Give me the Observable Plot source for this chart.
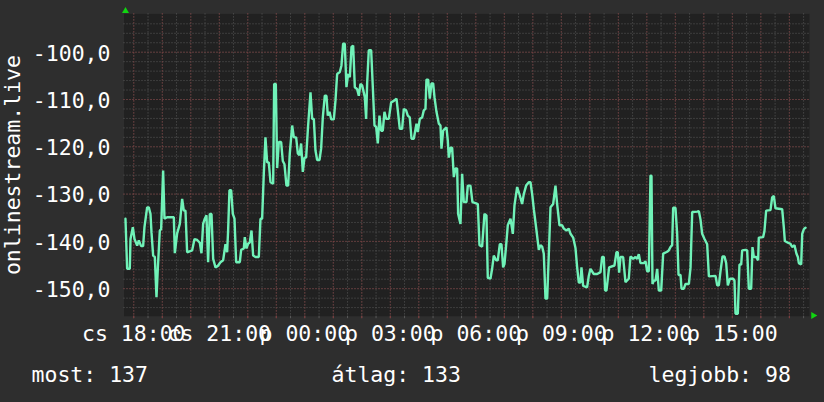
<!DOCTYPE html>
<html><head><meta charset="utf-8">
<script src="https://cdn.jsdelivr.net/npm/d3@7"></script>
<script src="https://cdn.jsdelivr.net/npm/@observablehq/plot@0.6"></script>
<style>
html,body{margin:0;padding:0;background:#2e2e2e;}
#chart{width:824px;height:402px;overflow:hidden;}
</style></head><body><div id="chart"></div>
<script>
// ---- data ----
const seriesName = "onlinestream.live";
const startTime = "2024-01-04T17:39:25Z";   // csütörtök
const endTime   = "2024-01-05T17:42:25Z";   // péntek
const anchorTime = "2024-01-04T18:00:00Z";
// minutes after 18:00 (Thursday)
const times = [
-17.5,-14,-8.4,-6.9,-2,1.5,7.1,10.6,15.5,19.7,
22.5,28.1,31.6,35.2,37.3,40.8,44.3,47.8,50.6,54.8,
57.6,61.8,64.6,70.2,84.3,86.4,91.3,96.9,101.8,105.3,
108.8,112.3,122.9,127.8,133.4,139,142.5,146,149.5,153,
156.5,160,163.6,167.1,172,176.9,182.5,188.1,193,196.5,
198.6,201.4,205,208.5,212,215.5,223.2,226,231.6,233.7,
237.2,240.7,244.2,247.8,251.3,256.2,263.2,266.7,270.2,273.7,
277.2,280.7,284.2,287.8,293.4,295.5,299,301.8,305.3,310.2,
313.7,317.2,321.4,324.9,328.4,333.4,336.9,341.8,345.3,348.8,
352.3,355.8,359.3,362.8,367,372,375.5,379,382.5,386,
390.9,394.4,397.9,402.1,405.6,408.4,412,415.5,421.1,424.6,
428.1,433.7,437.2,440.7,444.2,447.7,451.2,454.8,458.3,461.8,
465.3,470.2,473.7,477.2,480.7,486.3,489.1,491.2,494.7,
499.7,503.2,506.7,510.2,513.7,517.2,520.7,524.2,527.7,531.2,
536.8,541.8,547.4,553,555.8,560,564.9,568.4,573.3,576.8,
581,584.6,589.5,595.1,597.9,602.1,607,610.5,614,616.1,
619.7,623.2,626.7,630.2,633,637.2,642.1,645.6,647.7,651.2,
654.7,658.2,661,663.2,666.7,670.2,673.7,677.2,680.7,682.8,
687.7,691.2,694.7,700.3,703.1,708.7,712.9,719.3,724.2,727.7,
733.3,738.2,742.4,745.2,750.8,754.3,757.8,762.7,766.2,770.5,
774,777.5,780.3,783.8,787.3,793,797.9,801.4,807,812.6,
817.5,821,825.9,831.5,835.1,838.6,842.1,847.7,852.6,856.1,
859.6,863.1,866.7,870.2,873.7,877.2,882.8,887.7,891.2,896.1,
901.7,905.2,910.8,915.7,919.3,924.9,929.8,933.3,936.8,940.3,
942.4,945.9,954.3,957.8,
961.3,968.3,975.4,982.4,985.9,989.4,992.2,995,997.8,1000.6,
1011.8,1016.1,1018.9,1021.7,1024.5,1030.1,1035,1042,1045.5,1051.2,
1056.1,1059.6,1063.1,1066.6,1073.6,1077.2,1080.7,1084.2,1087.7,1089.8,
1091.9,1094.7,1098.3,1101.8,1105.3,1110.2,1114.4,1122.8,1126.3,1129.8,
1133.3,1135.4,1140.3,1143.8,1146.7,1150.9,1153,1157.9,1161.4,1168.5,
1172,1175.5,1186,1189.5,1193,1196.5,1201.4,1207,1210.6,1224.6,
1228.1,1231.6,1235.1,1239.3,1243.5,1247,1250.5,1254.8,1261.8,1264.5,
1266.7,1271.5,1275,1278.6,1280.7,1287.7,1291.2,1294.7,1299.6,1302.4,
1305.2,1310.1,1314.3,1315.7,1324.8,1327.6,1331.2,1340.3,1343.8,1347.3,
1350.8,1364.9,1368.4,1370.5,1375.4,1382.4,1385.9,1390.8,1395,1397.9,
1400,1404.9,1407.1,1410.6,1414.1
];
const values = [
-135.2,-145.8,-145.8,-139.5,-137,-139.5,-140.9,-139.8,-141,-141,
-137,-132.8,-132.8,-134.2,-138.1,-143,-143.3,-151.8,-145.8,-137.7,
-137.4,-125,-135.2,-134.9,-134.9,-142.5,-138.3,-136.3,-131,-133.5,
-133.5,-142.3,-141.9,-139.5,-139.7,-140.3,-142.5,-136.3,-135.2,-134.5,
-144.4,-134.2,-134.2,-143.7,-145.5,-145.2,-144.4,-144,-140.6,-142.3,
-137.7,-129.2,-129.2,-134.2,-135.2,-144.4,-144.4,-141.8,-141.5,-139.1,
-141.5,-140.5,-140.2,-137.7,-143,-143.3,-143.3,-135.2,-135.2,-125.7,
-118,-123.3,-123.3,-127.5,-127.8,-106.7,-106.7,-124.5,-119,-119,
-123,-123.7,-128.2,-128.2,-121.4,-115.5,-118,-118,-121.4,-121.8,
-119.3,-125.3,-122.3,-122.3,-115.5,-108.5,-114.1,-114.1,-120.8,-122.8,
-122.8,-120.4,-113.8,-109.2,-109.2,-113.4,-112.6,-114.2,-114.2,-110.2,
-104.6,-104.2,-102.8,-98.2,-98.2,-107.4,-104.6,-105.3,-98.9,-98.6,
-107.4,-107.8,-109.2,-106.7,-107,-109.5,-114.1,-106.7,-99.6,
-99.6,-107.4,-115.5,-115.8,-119.3,-113.4,-116.6,-116.6,-112.6,-114.1,
-114.1,-110.6,-110.3,-109.8,-112.3,-116.2,-116.2,-112,-112.3,-113.4,
-113.8,-118.3,-118.3,-115.1,-116.9,-114.1,-113.8,-112.3,-112,-105.8,
-105.8,-109.8,-106.6,-106.6,-109.5,-112.6,-115.1,-115.5,-120.4,-116.6,
-116.2,-115.9,-118.7,-122.3,-120.2,-120.2,-126.4,-124.6,-124.6,-134.2,
-136.3,-125.7,-131.7,-131.7,-128.2,-128.2,-131.7,-131.9,-132.1,-140.8,
-141.1,-134.2,-134.5,-147.7,-147.9,-145.8,-143,-144,-144,-140.6,
-140.6,-145.5,-144.8,-140.9,-136.6,-135.2,-138.4,-132.4,-128.5,-130.3,
-132.1,-130,-128.2,-127.5,-127.5,-130,-133.2,-137.7,-141.8,-140.8,
-141.1,-142.6,-152.1,-152.1,-142.6,-132.8,-132.1,-128.2,-132.1,-136.6,
-136.6,-137.3,-137.7,-137.3,-138.4,-139.2,-141.4,-145.5,-148.7,-148.7,
-145.5,-149.4,-149.7,-147.3,
-145.8,-146.9,-146.9,-146.5,-143.3,-143.3,-150.4,-150.4,-148,-145.5,
-145.1,-142.3,-142.3,-146.6,-143.3,-143.3,-148.6,-147.9,-143.2,-143.7,
-143.3,-143.7,-142.7,-144.6,-144.6,-144.2,-146.3,-146.3,-126.1,-126.1,
-149,-148.3,-148.3,-145.8,-150.4,-150.4,-142.6,-142.2,-141.9,-141.2,
-140.8,-132.9,-132.9,-138.4,-147.1,-147.1,-150,-150,-149,-149,
-145.5,-133.8,-133.7,-133.6,-135.4,-138.4,-139.5,-140.6,-147.4,-147.3,
-149.3,-149.3,-146.3,-143.2,-143.2,-144.6,-149.3,-147.9,-147.9,-148.3,
-155.3,-155.3,-144.9,-144.9,-141.9,-141.8,-141.9,-150,-150,-141.2,
-143.3,-143.3,-144,-139.2,-139.1,-137.8,-133.5,-133.4,-130.7,-130.4,
-133,-133.2,-137.1,-139.9,-140.2,-140.5,-141.2,-140.8,-142.6,-143.3,
-144.6,-144.9,-138.4,-137.4,-137.1
];
const yTickValues = [-150, -140, -130, -120, -110, -100];
const yDomain = [-155.82, -91.9];
const dayAbbr = ["v", "h", "k", "sze", "cs", "p", "szo"];
const summaryLabels = ["most: 137", "átlag: 133", "legjobb: 98"];

// ---- build ----
const anchor = new Date(anchorTime);
const xDomain = [new Date(startTime), new Date(endTime)];
const n = Math.min(times.length, values.length);
const data = d3.range(n).map(i => ({t: new Date(+anchor + times[i] * 60000), v: values[i]}));

const halfHours = d3.utcMinute.every(30).range(xDomain[0], xDomain[1]);
const hours = d3.utcHour.every(1).range(xDomain[0], xDomain[1]);
const labelHours = d3.utcHour.every(3).range(xDomain[0], xDomain[1]);
const yMinor = d3.range(-154, -93, 2);
const fmtHM = d3.utcFormat("%H:%M");
const fmtX = d => dayAbbr[d.getUTCDay()] + " " + fmtHM(d);
const fmtY = d => d.toFixed(1).replace(".", ",");

const font = "'DejaVu Sans Mono', monospace";
const FS = 21.5;
const minorColor = "#595959";
const majorColor = "#83393a";
const lineColor = "#70f2b8";
const arrowColor = "#11d411";

const chart = Plot.plot({
  width: 824,
  height: 402,
  marginLeft: 123.5,
  marginRight: 15,
  marginTop: 13.4,
  marginBottom: 86.3,
  style: {background: "#2e2e2e", color: "#ffffff", fontFamily: font, fontSize: FS + "px"},
  x: {type: "utc", domain: xDomain},
  y: {domain: yDomain},
  marks: [
    Plot.frame({fill: "#212121", stroke: null}),
    Plot.gridY(yMinor, {stroke: minorColor, strokeOpacity: 1, strokeDasharray: "1,2"}),
    Plot.gridX(halfHours, {stroke: minorColor, strokeOpacity: 1, strokeDasharray: "1,2"}),
    Plot.gridY(yTickValues, {stroke: majorColor, strokeOpacity: 1, strokeDasharray: "1,2"}),
    Plot.gridX(hours, {stroke: majorColor, strokeOpacity: 1, strokeDasharray: "1,2"}),
    Plot.axisX(halfHours, {tickSize: 2.5, stroke: minorColor, tickFormat: () => "", label: null}),
    Plot.axisX(hours, {tickSize: 2.5, stroke: majorColor, tickFormat: () => "", label: null}),
    Plot.line(data, {x: "t", y: "v", stroke: lineColor, strokeWidth: 2.4, strokeLinejoin: "miter", curve: "linear"}),
    Plot.axisX(labelHours, {tickSize: 0, tickPadding: 9.8, tickFormat: fmtX, label: null, fill: "#ffffff"}),
    Plot.axisY(yTickValues, {tickSize: 0, tickPadding: 13.5, dy: 1.5, tickFormat: fmtY, fill: "#ffffff",
      label: seriesName, labelAnchor: "center", labelOffset: 119, labelArrow: "none"}),
    Plot.dot([0], {frameAnchor: "top-left", symbol: "triangle", r: 2.6, fill: arrowColor, stroke: null, dx: 1.5, dy: -2.8}),
    Plot.dot([0], {frameAnchor: "bottom-right", symbol: "triangle", r: 2.6, fill: arrowColor, stroke: null, rotate: 90, dx: 3.8, dy: -0.7}),
    Plot.text([summaryLabels[0]], {frameAnchor: "bottom-left", text: d => d, textAnchor: "start", lineAnchor: "bottom", dx: 31 - 123.5, dy: 65.8, fill: "#ffffff"}),
    Plot.text([summaryLabels[1]], {frameAnchor: "bottom-left", text: d => d, textAnchor: "start", lineAnchor: "bottom", dx: 331 - 123.5, dy: 65.8, fill: "#ffffff"}),
    Plot.text([summaryLabels[2]], {frameAnchor: "bottom-left", text: d => d, textAnchor: "start", lineAnchor: "bottom", dx: 648 - 123.5, dy: 65.8, fill: "#ffffff"})
  ]
});
document.getElementById("chart").appendChild(chart);
</script>
</body></html>
